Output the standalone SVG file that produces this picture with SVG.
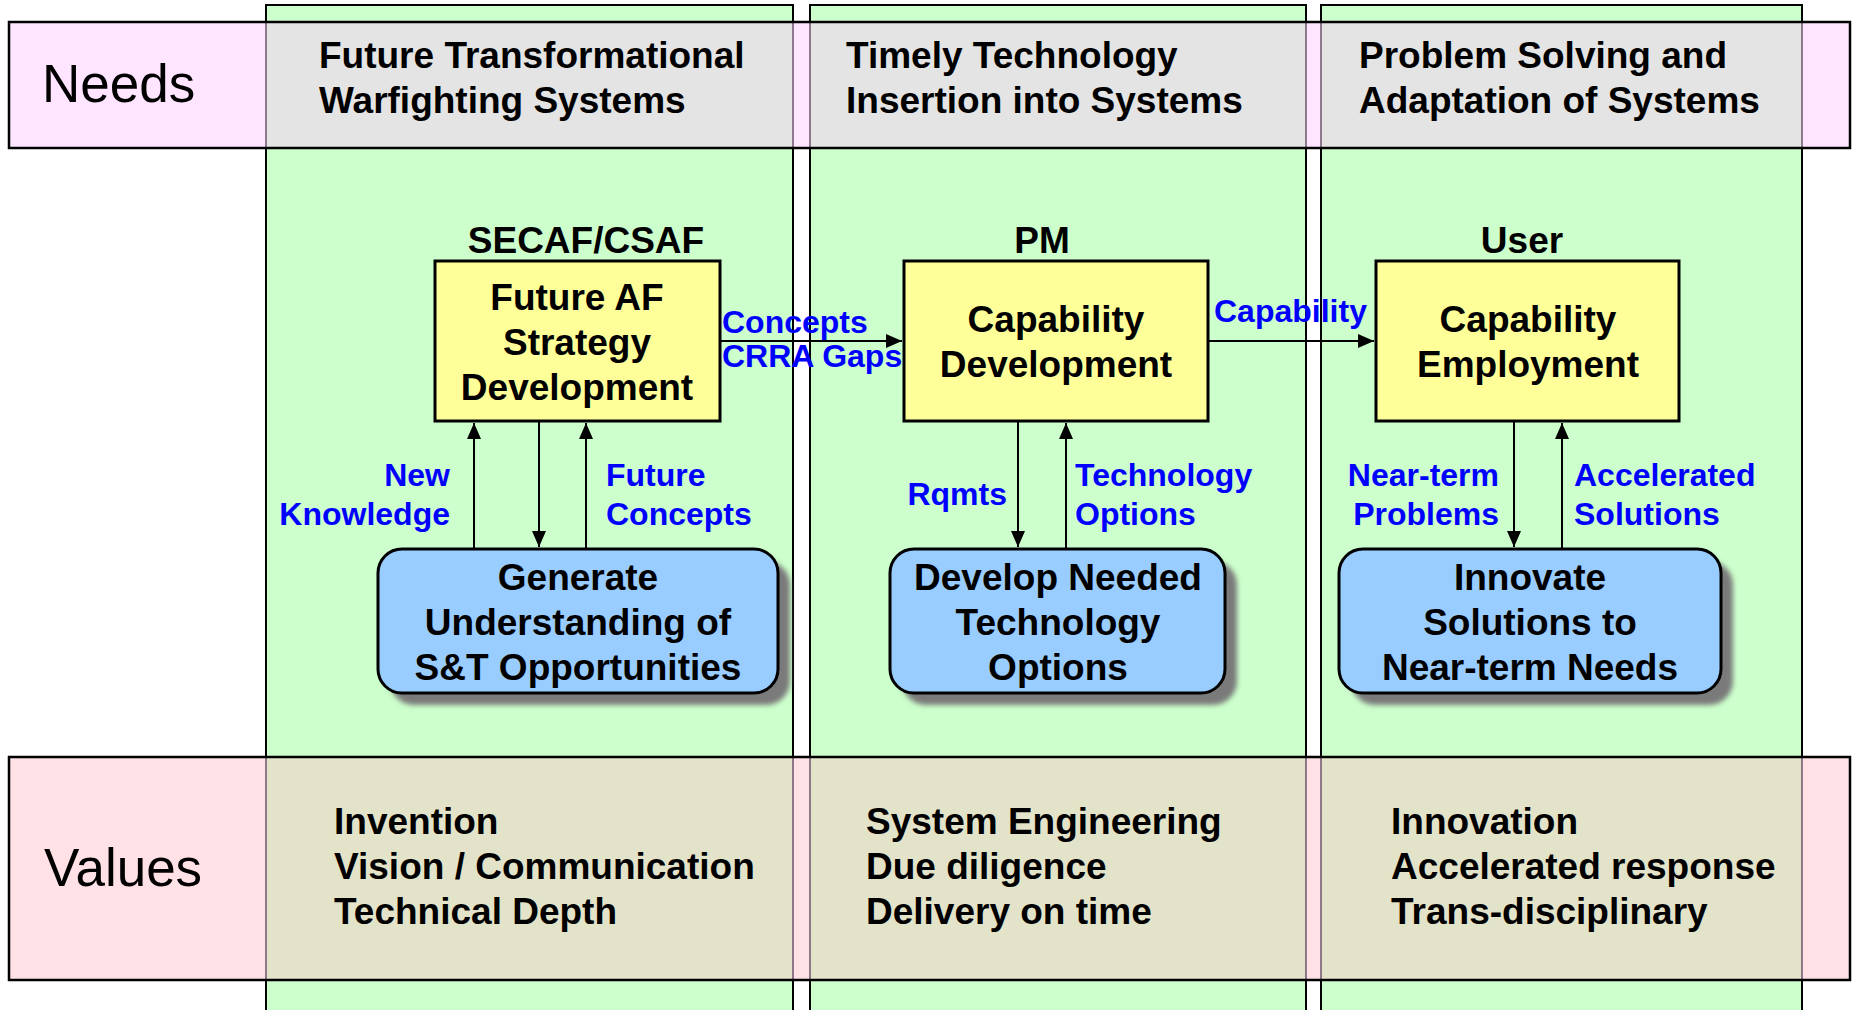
<svg xmlns="http://www.w3.org/2000/svg" width="1853" height="1010" viewBox="0 0 1853 1010">
<defs>
<style>
.col{fill:#CCFFCC;stroke:#000;stroke-width:2}
.edge{stroke:#6E566E;stroke-width:1.5}
.bandline{fill:none;stroke:#000;stroke-width:2.5}
.hdr{font-family:"Liberation Sans",Arial,sans-serif;font-weight:bold;font-size:37px;fill:#000}
.big{font-family:"Liberation Sans",Arial,sans-serif;font-size:53px;fill:#000}
.ybox{fill:#FFFF99;stroke:#000;stroke-width:3}
.bbox{fill:#99CCFF;stroke:#000;stroke-width:3}
.shadow{fill:#7A7A7A;filter:url(#blur)}
.ntxt{font-family:"Liberation Sans",Arial,sans-serif;font-weight:bold;font-size:37px;fill:#000;text-anchor:middle}
.lbl{font-family:"Liberation Sans",Arial,sans-serif;font-weight:bold;font-size:32px;fill:#0000FF}
.conn{stroke:#000;stroke-width:2;fill:none}
</style>
<filter id="blur" x="-10%" y="-10%" width="120%" height="120%"><feGaussianBlur stdDeviation="2.5"/></filter>
<marker id="ah" markerUnits="userSpaceOnUse" markerWidth="18" markerHeight="16" refX="16" refY="7" orient="auto">
<path d="M0,0 L16,7 L0,14 Z" fill="#000"/>
</marker>
</defs>

<g id="columns">
<rect class="col" x="266" y="5" width="527" height="1010"/>
<rect class="col" x="810" y="5" width="496" height="1010"/>
<rect class="col" x="1321" y="5" width="481" height="1010"/>
</g>

<g id="needs-band">
<rect x="9" y="22" width="1841" height="126" fill="#FFE5FF"/>
<rect x="266" y="22" width="527" height="126" fill="#E4E4E4"/>
<rect x="810" y="22" width="496" height="126" fill="#E4E4E4"/>
<rect x="1321" y="22" width="481" height="126" fill="#E4E4E4"/>
<path class="edge" d="M266,22V148M793,22V148M810,22V148M1306,22V148M1321,22V148M1802,22V148"/>
<rect class="bandline" x="9" y="22" width="1841" height="126"/>
<text class="big" x="42" y="102">Needs</text>
<text class="hdr" x="319" y="68">Future Transformational</text>
<text class="hdr" x="319" y="113">Warfighting Systems</text>
<text class="hdr" x="846" y="68">Timely Technology</text>
<text class="hdr" x="846" y="113">Insertion into Systems</text>
<text class="hdr" x="1359" y="68">Problem Solving and</text>
<text class="hdr" x="1359" y="113">Adaptation of Systems</text>
</g>

<g id="values-band">
<rect x="9" y="757" width="1841" height="223" fill="#FFE1E6"/>
<rect x="266" y="757" width="527" height="223" fill="#E3E3C9"/>
<rect x="810" y="757" width="496" height="223" fill="#E3E3C9"/>
<rect x="1321" y="757" width="481" height="223" fill="#E3E3C9"/>
<path class="edge" d="M266,757V980M793,757V980M810,757V980M1306,757V980M1321,757V980M1802,757V980"/>
<rect class="bandline" x="9" y="757" width="1841" height="223"/>
<text class="big" x="44" y="886">Values</text>
<text class="hdr" x="334" y="834">Invention</text>
<text class="hdr" x="334" y="879">Vision / Communication</text>
<text class="hdr" x="334" y="924">Technical Depth</text>
<text class="hdr" x="866" y="834">System Engineering</text>
<text class="hdr" x="866" y="879">Due diligence</text>
<text class="hdr" x="866" y="924">Delivery on time</text>
<text class="hdr" x="1391" y="834">Innovation</text>
<text class="hdr" x="1391" y="879">Accelerated response</text>
<text class="hdr" x="1391" y="924">Trans-disciplinary</text>
</g>

<g id="connectors">
<line class="conn" x1="474" y1="549" x2="474" y2="423" marker-end="url(#ah)"/>
<line class="conn" x1="539" y1="421" x2="539" y2="547" marker-end="url(#ah)"/>
<line class="conn" x1="586" y1="549" x2="586" y2="423" marker-end="url(#ah)"/>
<line class="conn" x1="720" y1="341" x2="902" y2="341" marker-end="url(#ah)"/>
<line class="conn" x1="1208" y1="341" x2="1374" y2="341" marker-end="url(#ah)"/>
<line class="conn" x1="1018" y1="421" x2="1018" y2="547" marker-end="url(#ah)"/>
<line class="conn" x1="1066" y1="549" x2="1066" y2="423" marker-end="url(#ah)"/>
<line class="conn" x1="1514" y1="421" x2="1514" y2="547" marker-end="url(#ah)"/>
<line class="conn" x1="1562" y1="549" x2="1562" y2="423" marker-end="url(#ah)"/>
<text class="lbl" x="450" y="486" text-anchor="end">New</text>
<text class="lbl" x="450" y="525" text-anchor="end">Knowledge</text>
<text class="lbl" x="606" y="486">Future</text>
<text class="lbl" x="606" y="525">Concepts</text>
<text class="lbl" x="722" y="333">Concepts</text>
<text class="lbl" x="722" y="367">CRRA Gaps</text>
<text class="lbl" x="1214" y="322">Capability</text>
<text class="lbl" x="1007" y="505" text-anchor="end">Rqmts</text>
<text class="lbl" x="1075" y="486">Technology</text>
<text class="lbl" x="1075" y="525">Options</text>
<text class="lbl" x="1499" y="486" text-anchor="end">Near-term</text>
<text class="lbl" x="1499" y="525" text-anchor="end">Problems</text>
<text class="lbl" x="1574" y="486">Accelerated</text>
<text class="lbl" x="1574" y="525">Solutions</text>
</g>

<g id="node-secaf">
<text class="ntxt" x="586" y="253">SECAF/CSAF</text>
<rect class="ybox" x="435" y="261" width="285" height="160"/>
<text class="ntxt" x="577" y="310">Future AF</text>
<text class="ntxt" x="577" y="355">Strategy</text>
<text class="ntxt" x="577" y="400">Development</text>
</g>

<g id="node-pm">
<text class="ntxt" x="1042" y="253">PM</text>
<rect class="ybox" x="904" y="261" width="304" height="160"/>
<text class="ntxt" x="1056" y="332">Capability</text>
<text class="ntxt" x="1056" y="377">Development</text>
</g>

<g id="node-user">
<text class="ntxt" x="1522" y="253">User</text>
<rect class="ybox" x="1376" y="261" width="303" height="160"/>
<text class="ntxt" x="1528" y="332">Capability</text>
<text class="ntxt" x="1528" y="377">Employment</text>
</g>

<g id="node-generate">
<rect class="shadow" x="390" y="561" width="400" height="144" rx="24"/>
<rect class="bbox" x="378" y="549" width="400" height="144" rx="24"/>
<text class="ntxt" x="578" y="590">Generate</text>
<text class="ntxt" x="578" y="635">Understanding of</text>
<text class="ntxt" x="578" y="680">S&amp;T Opportunities</text>
</g>

<g id="node-develop">
<rect class="shadow" x="902" y="561" width="335" height="144" rx="24"/>
<rect class="bbox" x="890" y="549" width="335" height="144" rx="24"/>
<text class="ntxt" x="1058" y="590">Develop Needed</text>
<text class="ntxt" x="1058" y="635">Technology</text>
<text class="ntxt" x="1058" y="680">Options</text>
</g>

<g id="node-innovate">
<rect class="shadow" x="1351" y="561" width="382" height="144" rx="24"/>
<rect class="bbox" x="1339" y="549" width="382" height="144" rx="24"/>
<text class="ntxt" x="1530" y="590">Innovate</text>
<text class="ntxt" x="1530" y="635">Solutions to</text>
<text class="ntxt" x="1530" y="680">Near-term Needs</text>
</g>
</svg>
